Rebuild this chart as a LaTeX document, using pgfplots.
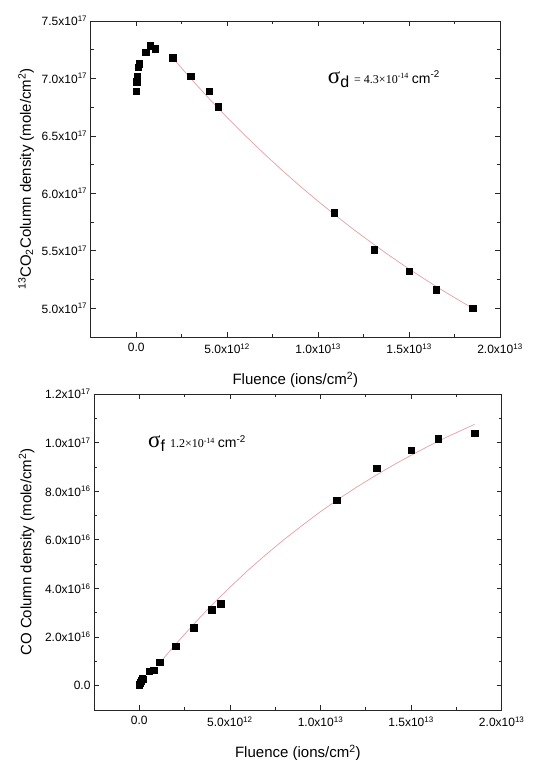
\documentclass[border=0pt]{standalone}
\usepackage{fontspec}
\setmainfont{Liberation Sans}
\newfontfamily\seriffont{Liberation Serif}
\usepackage{pgfplots}
\pgfplotsset{compat=1.18}
\definecolor{fitline}{RGB}{226,160,166}
\pgfplotsset{
  myax/.style={
    scale only axis, height=316pt,
    xmin=-2.5, xmax=20,
    xtick={0,5,10,15,20},
    minor xtick={2.5,7.5,12.5,17.5},
    xticklabels={0.0,5.0x10\textsuperscript{12},1.0x10\textsuperscript{13},1.5x10\textsuperscript{13},2.0x10\textsuperscript{13}},
    tick align=inside,
    major tick length=5pt, minor tick length=3pt,
    axis line style={line width=0.9pt, black!85},
    every tick/.style={line width=0.8pt, black!85},
    tick label style={font=\fontsize{12}{12}\selectfont},
    xticklabel style={yshift=-3pt},
    label style={font=\fontsize{15}{15}\selectfont},
    xlabel={Fluence (ions/cm\textsuperscript{2})},
    xlabel style={at={(axis description cs:0.5,-0.136)}, anchor=center},
    clip=false,
  },
  datapts/.style={only marks, mark=square*, mark size=3.2pt, black},
  fitpl/.style={fitline, line width=0.7pt, no marks},
}
\begin{document}
\begin{tikzpicture}
\useasboundingbox (0,0) rectangle (542pt,760pt);
% ---------------- top panel ----------------
\begin{axis}[myax, at={(90.7pt,423pt)}, anchor=south west, width=409.3pt,
  ymin=4.75, ymax=7.5,
  ytick={5,5.5,6,6.5,7,7.5},
  minor ytick={5.25,5.75,6.25,6.75,7.25},
  yticklabels={5.0x10\textsuperscript{17},5.5x10\textsuperscript{17},6.0x10\textsuperscript{17},6.5x10\textsuperscript{17},7.0x10\textsuperscript{17},7.5x10\textsuperscript{17}},
  ylabel={\textsuperscript{13}CO\textsubscript{2}Column density (mole/cm\textsuperscript{2})},
  ylabel style={at={(axis description cs:-0.158,0.5)}, anchor=center},
]
\addplot[fitpl] coordinates {
(2,7.180) (3,6.999) (4,6.826) (5,6.660) (6,6.502) (7,6.350) (8,6.204)
(9,6.064) (10,5.931) (11,5.803) (12,5.680) (13,5.563) (14,5.450)
(15,5.342) (16,5.239) (17,5.140) (18,5.046) (18.5,5.000)};
\addplot[datapts] coordinates {
(0.0,6.89) (0.02,6.97) (0.05,7.02) (0.10,7.10) (0.15,7.13)
(0.52,7.23) (0.77,7.285) (1.06,7.26) (2.0,7.18) (3.0,7.02)
(4.0,6.89) (4.5,6.755) (10.9,5.83) (13.07,5.51) (15.0,5.32)
(16.5,5.16) (18.5,5.00)};
\node[anchor=base west, inner sep=0pt] at (axis cs:10.53,6.96)
  {{\seriffont\fontsize{23}{23}\selectfont σ}\raisebox{-4pt}{\fontsize{16}{16}\selectfont d}\hspace{5pt}{\seriffont\fontsize{12}{12}\selectfont = 4.3×10\textsuperscript{-14}}\hspace{3pt}{\fontsize{14}{14}\selectfont cm\textsuperscript{-2}}};
\end{axis}
% ---------------- bottom panel ----------------
\begin{axis}[myax, at={(94pt,50pt)}, anchor=south west, width=407.7pt,
  ymin=-1, ymax=12,
  ytick={0,2,4,6,8,10,12},
  minor ytick={1,3,5,7,9,11},
  yticklabels={0.0,2.0x10\textsuperscript{16},4.0x10\textsuperscript{16},6.0x10\textsuperscript{16},8.0x10\textsuperscript{16},1.0x10\textsuperscript{17},1.2x10\textsuperscript{17}},
  ylabel={CO Column density (mole/cm\textsuperscript{2})},
  ylabel style={at={(axis description cs:-0.165,0.5)}, anchor=center},
]
\addplot[fitpl] coordinates {
(1,0.83) (2,1.70) (3,2.53) (4,3.32) (5,4.05) (6,4.75) (7,5.40) (8,6.02)
(9,6.60) (10,7.16) (11,7.68) (12,8.17) (13,8.63) (14,9.07) (15,9.48)
(16,9.87) (17,10.24) (18,10.58) (18.5,10.75)};
\addplot[datapts] coordinates {
(0.0,0.04) (0.05,0.12) (0.10,0.20) (0.15,0.28) (0.20,0.27)
(0.54,0.60) (0.79,0.63) (1.13,0.975) (2.0,1.63) (3.0,2.39)
(4.0,3.13) (4.5,3.37) (10.9,7.63) (13.1,8.94) (15.0,9.70)
(16.5,10.16) (18.5,10.38)};
\node[anchor=base west, inner sep=0pt] at (axis cs:0.48,9.79)
  {{\seriffont\fontsize{23}{23}\selectfont σ}\raisebox{-4pt}{\fontsize{16}{16}\selectfont f}\hspace{5pt}{\seriffont\fontsize{12}{12}\selectfont 1.2×10\textsuperscript{-14}}\hspace{3pt}{\fontsize{14}{14}\selectfont cm\textsuperscript{-2}}};
\end{axis}
\end{tikzpicture}
\end{document}
